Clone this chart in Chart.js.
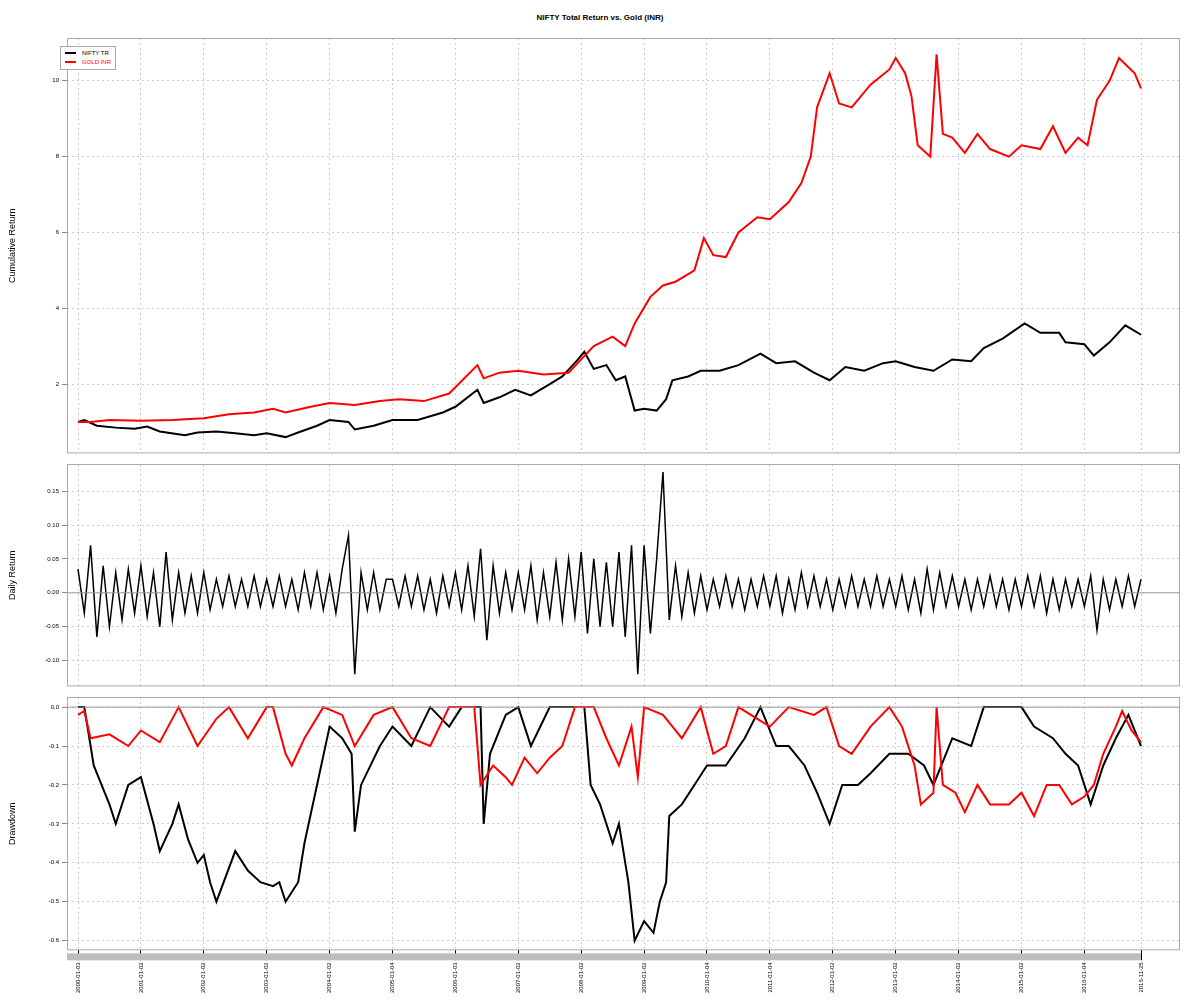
<!DOCTYPE html>
<html><head><meta charset="utf-8">
<script src="https://cdn.jsdelivr.net/npm/chart.js@4"></script>
<style>
body{margin:0;width:1200px;height:1000px;background:#fff;position:relative;font-family:"Liberation Sans",Arial,sans-serif}
.c{position:absolute;left:0;width:1200px}
#title{position:absolute;top:13px;left:0;width:1200px;text-align:center;font-size:8px;font-weight:bold}
#legend{position:absolute;left:60px;top:46px;border:1px solid #aaa;padding:2px 4px;font-size:6px;line-height:9px;background:#fff;z-index:2}
#legend span.l{display:inline-block;width:11px;height:2px;vertical-align:middle;margin-right:6px}
</style></head><body>
<div id="title">NIFTY Total Return vs. Gold (INR)</div>
<div id="legend"><div><span class="l" style="background:#000"></span>NIFTY TR</div><div style="color:#f00"><span class="l" style="background:#f00"></span>GOLD INR</div></div>
<div class="c" style="top:30px;height:430px"><canvas id="c1"></canvas></div>
<div class="c" style="top:457px;height:236px"><canvas id="c2"></canvas></div>
<div class="c" style="top:690px;height:310px"><canvas id="c3"></canvas></div>
<script>
const tickDates=[2000.0,2001.0,2002.0,2003.0,2004.0,2005.0,2006.0,2007.0,2008.0,2009.0,2010.0,2011.0,2012.0,2013.0,2014.0,2015.0,2016.0,2016.9];
const tickLabels=["2000-01-03","2001-01-02","2002-01-02","2003-01-02","2004-01-02","2005-01-04","2006-01-03","2007-01-02","2008-01-02","2009-01-02","2010-01-04","2011-01-04","2012-01-02","2013-01-02","2014-01-02","2015-01-02","2016-01-04","2016-11-25"];
const niftyCum=[[2000.0,1.0],[2000.1,1.05],[2000.3,0.9],[2000.6,0.85],[2000.9,0.82],[2001.1,0.88],[2001.3,0.75],[2001.7,0.65],[2001.9,0.72],[2002.2,0.75],[2002.5,0.7],[2002.8,0.65],[2003.0,0.7],[2003.3,0.6],[2003.5,0.72],[2003.8,0.9],[2004.0,1.05],[2004.3,1.0],[2004.4,0.8],[2004.7,0.9],[2005.0,1.05],[2005.4,1.05],[2005.8,1.25],[2006.0,1.4],[2006.35,1.85],[2006.45,1.5],[2006.7,1.65],[2006.95,1.85],[2007.2,1.7],[2007.5,2.0],[2007.7,2.2],[2007.95,2.65],[2008.05,2.85],[2008.2,2.4],[2008.4,2.5],[2008.55,2.1],[2008.7,2.2],[2008.85,1.3],[2009.0,1.35],[2009.2,1.3],[2009.35,1.6],[2009.45,2.1],[2009.7,2.2],[2009.9,2.35],[2010.2,2.35],[2010.5,2.5],[2010.85,2.8],[2011.1,2.55],[2011.4,2.6],[2011.7,2.3],[2011.95,2.1],[2012.2,2.45],[2012.5,2.35],[2012.8,2.55],[2013.0,2.6],[2013.3,2.45],[2013.6,2.35],[2013.9,2.65],[2014.2,2.6],[2014.4,2.95],[2014.7,3.2],[2015.05,3.6],[2015.3,3.35],[2015.6,3.35],[2015.7,3.1],[2016.0,3.05],[2016.15,2.75],[2016.4,3.1],[2016.65,3.55],[2016.9,3.3]];
const goldCum=[[2000.0,1.0],[2000.2,1.0],[2000.5,1.05],[2001.0,1.03],[2001.5,1.05],[2002.0,1.1],[2002.4,1.2],[2002.8,1.25],[2003.1,1.35],[2003.3,1.25],[2003.7,1.4],[2004.0,1.5],[2004.4,1.45],[2004.8,1.55],[2005.1,1.6],[2005.5,1.55],[2005.9,1.75],[2006.35,2.5],[2006.45,2.15],[2006.7,2.3],[2007.0,2.35],[2007.4,2.25],[2007.8,2.3],[2008.0,2.65],[2008.2,3.0],[2008.5,3.25],[2008.7,3.0],[2008.85,3.6],[2009.1,4.3],[2009.3,4.6],[2009.5,4.7],[2009.8,5.0],[2009.95,5.85],[2010.1,5.4],[2010.3,5.35],[2010.5,6.0],[2010.8,6.4],[2011.0,6.35],[2011.3,6.8],[2011.5,7.3],[2011.65,8.0],[2011.75,9.3],[2011.95,10.2],[2012.1,9.4],[2012.3,9.3],[2012.6,9.9],[2012.9,10.3],[2013.0,10.6],[2013.15,10.2],[2013.25,9.6],[2013.35,8.3],[2013.55,8.0],[2013.65,10.7],[2013.75,8.6],[2013.9,8.5],[2014.1,8.1],[2014.3,8.6],[2014.5,8.2],[2014.8,8.0],[2015.0,8.3],[2015.3,8.2],[2015.5,8.8],[2015.7,8.1],[2015.9,8.5],[2016.05,8.3],[2016.2,9.5],[2016.4,10.0],[2016.55,10.6],[2016.8,10.2],[2016.9,9.8]];
const retStart=2000.0, retStep=0.1;
const dailyRet=[.035,-.03,.07,-.065,.04,-.05,.03,-.04,.035,-.03,
.04,-.035,.03,-.05,.06,-.04,.03,-.03,.025,-.03,
.03,-.025,.02,-.02,.025,-.02,.02,-.02,.025,-.02,
.02,-.02,.025,-.02,.02,-.025,.03,-.02,.03,-.025,
.025,-.03,.035,.085,-.12,.03,-.025,.03,-.025,.02,
.02,-.02,.025,-.02,.025,-.025,.02,-.03,.025,-.02,
.03,-.025,.04,-.035,.065,-.07,.04,-.03,.03,-.025,
.03,-.025,.04,-.04,.03,-.035,.045,-.04,.05,-.035,
.06,-.06,.05,-.05,.045,-.05,.06,-.065,.07,-.12,
.07,-.06,.05,.178,-.04,.04,-.035,.03,-.03,.025,
-.025,.02,-.02,.025,-.02,.02,-.025,.02,-.02,.025,
-.02,.025,-.03,.02,-.025,.03,-.02,.025,-.02,.02,
-.025,.02,-.02,.025,-.02,.02,-.02,.025,-.02,.02,
-.02,.025,-.025,.02,-.03,.035,-.025,.03,-.02,.025,
-.02,.02,-.025,.02,-.02,.025,-.02,.02,-.025,.02,
-.02,.025,-.02,.025,-.03,.02,-.025,.02,-.02,.02,
-.02,.025,-.055,.02,-.025,.02,-.02,.025,-.02,.02];
const niftyDD=[[2000.0,0],[2000.1,0],[2000.25,-0.15],[2000.5,-0.25],[2000.6,-0.3],[2000.8,-0.2],[2001.0,-0.18],[2001.2,-0.3],[2001.3,-0.37],[2001.5,-0.3],[2001.6,-0.25],[2001.75,-0.34],[2001.9,-0.4],[2002.0,-0.38],[2002.1,-0.45],[2002.2,-0.5],[2002.5,-0.37],[2002.7,-0.42],[2002.9,-0.45],[2003.1,-0.46],[2003.2,-0.45],[2003.3,-0.5],[2003.5,-0.45],[2003.6,-0.35],[2003.8,-0.2],[2004.0,-0.05],[2004.2,-0.08],[2004.35,-0.12],[2004.4,-0.32],[2004.5,-0.2],[2004.8,-0.1],[2005.0,-0.05],[2005.3,-0.1],[2005.6,0],[2005.9,-0.05],[2006.1,0],[2006.4,0],[2006.45,-0.3],[2006.55,-0.12],[2006.8,-0.02],[2007.0,0],[2007.2,-0.1],[2007.5,0],[2007.9,0],[2008.05,0],[2008.15,-0.2],[2008.3,-0.25],[2008.5,-0.35],[2008.6,-0.3],[2008.75,-0.45],[2008.85,-0.6],[2009.0,-0.55],[2009.15,-0.58],[2009.25,-0.5],[2009.35,-0.45],[2009.4,-0.28],[2009.6,-0.25],[2009.8,-0.2],[2010.0,-0.15],[2010.3,-0.15],[2010.6,-0.08],[2010.85,0],[2011.1,-0.1],[2011.3,-0.1],[2011.55,-0.15],[2011.75,-0.22],[2011.95,-0.3],[2012.15,-0.2],[2012.4,-0.2],[2012.6,-0.17],[2012.9,-0.12],[2013.2,-0.12],[2013.45,-0.15],[2013.6,-0.2],[2013.9,-0.08],[2014.2,-0.1],[2014.4,0],[2014.7,0],[2015.0,0],[2015.2,-0.05],[2015.5,-0.08],[2015.7,-0.12],[2015.9,-0.15],[2016.1,-0.25],[2016.3,-0.15],[2016.5,-0.08],[2016.7,-0.02],[2016.9,-0.1]];
const goldDD=[[2000.0,-0.02],[2000.1,-0.01],[2000.2,-0.08],[2000.5,-0.07],[2000.8,-0.1],[2001.0,-0.06],[2001.3,-0.09],[2001.6,0],[2001.9,-0.1],[2002.2,-0.03],[2002.4,0],[2002.7,-0.08],[2003.0,0],[2003.1,0],[2003.3,-0.12],[2003.4,-0.15],[2003.6,-0.08],[2003.9,0],[2004.2,-0.02],[2004.4,-0.1],[2004.7,-0.02],[2005.0,0],[2005.3,-0.08],[2005.6,-0.1],[2005.9,0],[2006.3,0],[2006.4,-0.2],[2006.6,-0.15],[2006.8,-0.18],[2006.9,-0.2],[2007.1,-0.13],[2007.3,-0.17],[2007.5,-0.13],[2007.7,-0.1],[2007.9,0],[2008.2,0],[2008.4,-0.08],[2008.6,-0.15],[2008.8,-0.05],[2008.9,-0.18],[2009.0,0],[2009.3,-0.02],[2009.6,-0.08],[2009.9,0],[2010.1,-0.12],[2010.3,-0.1],[2010.5,0],[2010.8,-0.03],[2011.0,-0.05],[2011.3,0],[2011.7,-0.02],[2011.9,0],[2012.1,-0.1],[2012.3,-0.12],[2012.6,-0.05],[2012.9,0],[2013.1,-0.05],[2013.3,-0.15],[2013.4,-0.25],[2013.6,-0.22],[2013.65,0],[2013.75,-0.2],[2013.95,-0.22],[2014.1,-0.27],[2014.3,-0.2],[2014.5,-0.25],[2014.8,-0.25],[2015.0,-0.22],[2015.2,-0.28],[2015.4,-0.2],[2015.6,-0.2],[2015.8,-0.25],[2016.0,-0.23],[2016.15,-0.2],[2016.3,-0.12],[2016.5,-0.05],[2016.6,-0.01],[2016.75,-0.06],[2016.9,-0.09]];

const toPts=a=>a.map(p=>({x:p[0],y:p[1]}));
const retPts=dailyRet.map((v,i)=>({x:retStart+i*retStep,y:v}));
const XMIN=1999.825, XMAX=2017.52;
const boxPlugin={id:'box',afterDraw(c){const a=c.chartArea,x=c.ctx;x.save();
 const o=c.options.plugins.box||{};
 if(o.zero){const y=c.scales.y.getPixelForValue(0);x.strokeStyle='#999';x.lineWidth=1;x.beginPath();x.moveTo(a.left,y);x.lineTo(a.right,y);x.stroke();}
 if(o.band){x.fillStyle='#bdbdbd';const xs=c.scales.x;x.fillRect(a.left,a.bottom+3,xs.getPixelForValue(2016.9)-a.left,7);}
 x.strokeStyle='#aaa';x.lineWidth=1;x.strokeRect(a.left+0.5,a.top+0.5,a.width-1,a.height-1);x.restore();}};
Chart.register(boxPlugin);
function xAxis(showTicks){return {type:'linear',min:XMIN,max:XMAX,
 afterBuildTicks:s=>{s.ticks=tickDates.map(v=>({value:v}));},
 grid:{color:'#cccccc',drawTicks:showTicks,tickLength:10,tickColor:'#000'},border:{display:false,dash:[2,3]},
 ticks:{display:showTicks,autoSkip:false,maxRotation:90,minRotation:90,font:{size:6},color:'#000',padding:2,callback:(v,i)=>tickLabels[i]},
 afterFit:s=>{if(!showTicks)s.height=0;}};}
function yAxis(min,max,step,title,fmt){return {min,max,afterBuildTicks:s=>{const t=[];for(let v=Math.ceil(min/step)*step;v<=max+1e-9;v+=step)t.push({value:+v.toFixed(4)});s.ticks=t;},
 grid:{color:'#cccccc',tickLength:5,tickColor:'#888'},border:{display:false,dash:[2,3]},
 ticks:{font:{size:6},color:'#000',padding:3,callback:fmt},
 title:{display:true,text:title,font:{size:9},color:'#000',padding:0},
 afterFit:s=>{s.width=60;}};}
Chart.defaults.animation=false;Chart.defaults.responsive=true;Chart.defaults.maintainAspectRatio=false;
Chart.defaults.font.family='"Liberation Sans",Arial,sans-serif';
Chart.defaults.elements.point.radius=0;
function opts(y,xo,box){return {layout:{padding:{left:7,right:20,top:box.top,bottom:box.bottom}},
 plugins:{legend:{display:false},tooltip:{enabled:false},box:box},
 scales:{x:xo,y:y}};}
function dashGrid(o){o.scales.x.grid.borderDash=[2,3];o.scales.y.grid.borderDash=[2,3];return o;}
const o1=dashGrid(opts(yAxis(0.17,11.13,2,'Cumulative Return',v=>v),xAxis(false),{top:8,bottom:5}));
new Chart(c1,{type:'line',data:{datasets:[
 {data:toPts(goldCum),borderColor:'#ff0000',borderWidth:2,tension:0},
 {data:toPts(niftyCum),borderColor:'#000',borderWidth:2,tension:0}]},options:o1});
const o2=dashGrid(opts(yAxis(-0.138,0.19,0.05,'Daily Return',v=>v.toFixed(2)),xAxis(false),{top:7,bottom:3,zero:true}));
new Chart(c2,{type:'line',data:{datasets:[{data:retPts,borderColor:'#000',borderWidth:1.5,tension:0}]},options:o2});
const o3=dashGrid(opts(yAxis(-0.625,0.026,0.1,'Drawdown',v=>v.toFixed(1)),xAxis(true),{top:7,bottom:5,zero:true,band:true}));
new Chart(c3,{type:'line',data:{datasets:[
 {data:toPts(goldDD),borderColor:'#ff0000',borderWidth:2,tension:0},
 {data:toPts(niftyDD),borderColor:'#000',borderWidth:2,tension:0}]},options:o3});
</script></body></html>
